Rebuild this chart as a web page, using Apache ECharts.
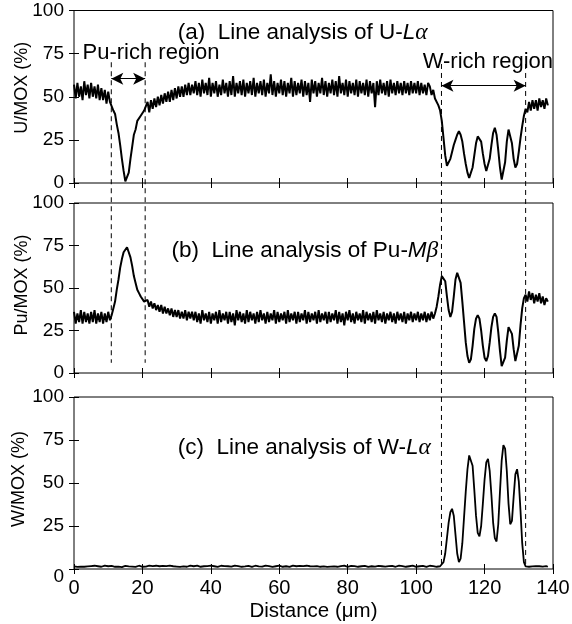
<!DOCTYPE html>
<html><head><meta charset="utf-8">
<script src="https://cdn.jsdelivr.net/npm/echarts@6/dist/echarts.min.js"></script>
<style>html,body{margin:0;padding:0;background:#fff}#c{width:572px;height:624px}</style>
</head><body><div id="c"></div>
<script>
// Sampling step along the line scan (µm)
const distStep = 0.5;
// U/MOX (%) sampled every 0.5 µm from 0 to 138.5 µm
const uValues = [
57,49,58,50,56,48,59,51,57,49,58,50,56,49,57,48,55,48,54,46,53,47,
46,42,40,34,29,22,14,7,1,1,6,14,21,28,31,36,37,39,39,42,43,
47,41,48,43,49,44,50,45,51,46,52,47,53,47,54,48,55,49,56,50,56,50,57,51,58,51,57,52,
59,51,58,50,60,52,58,51,61,50,
58,52,59,50,57,51,60,52,58,50,
59,51,62,50,58,52,59,51,60,50,
58,52,59,51,61,50,58,52,59,51,
60,50,58,52,63,51,59,50,58,52,
60,51,59,50,58,52,61,50,59,51,
58,52,60,50,59,51,58,47,60,52,
59,50,58,52,61,51,59,50,58,52,
60,51,59,50,62,52,58,51,60,50,
59,52,58,51,60,50,59,52,58,51,
60,50,59,52,58,44,59,51,60,52,
58,51,59,50,60,52,58,51,59,52,
58,51,59,52,58,51,59,52,58,52,
59,51,58,52,57,51,58,
56,51,54,49,49,45,42,36,26,16,10,10,14,18,22,25,28,30,28,24,17,11,6,3,4,9,16,23,27,28,
24,17,11,7,8,14,22,29,32,28,19,9,2,3,12,24,31,30,23,14,9,11,18,26,33,39,43,
41,47,42,48,43,48,42,49,44,48,43,49,45
];
// Pu/MOX (%)
const puValues = [
36,29,35,30,37,29,36,30,35,29,36,30,37,29,35,30,36,29,35,30,36,31,
34,38,42,49,55,62,67,71,72,74,71,68,63,57,53,49,47,45,44,42,41,
43,39,42,38,41,37,40,36,40,35,39,35,38,34,38,33,37,33,37,32,36,32,37,31,36,32,36,31,
36,30,35,29,37,31,35,30,36,29,
35,31,36,29,37,30,35,31,36,29,
36,30,35,28,37,31,36,30,35,29,
37,30,36,31,35,29,36,30,37,31,
35,29,36,30,35,31,37,29,36,30,
35,31,36,29,37,30,35,31,36,29,
36,30,35,31,37,29,36,30,35,31,
36,29,37,30,35,31,36,29,36,30,
35,31,37,29,36,30,35,28,36,31,
37,30,35,29,36,31,35,30,37,29,
36,31,35,30,36,29,37,31,35,30,
36,29,35,31,36,30,35,29,36,31,
35,30,36,29,35,31,36,30,35,31,
36,30,35,31,36,30,35,
31,36,32,35,39,45,52,57,58,54,45,37,33,36,45,55,59,59,53,42,30,18,10,6,8,16,26,32,34,32,
25,16,9,7,10,18,27,33,35,33,24,13,4,3,9,19,27,28,23,14,7,8,16,28,38,44,46,
42,48,43,47,41,46,42,47,41,45,40,44,42
];
// W/MOX (%)
const wValues = [
1.5,1.9,1.2,1.7,1.4,2.0,1.3,1.8,1.5,1.1,
1.7,1.4,1.9,1.2,1.6,1.8,1.3,1.5,2.0,1.4,
1.6,1.2,1.8,1.5,1.3,1.9,1.4,1.7,1.1,1.6,
1.8,1.3,1.5,2.0,1.4,1.7,1.2,1.6,1.9,1.5,
1.3,1.8,1.4,1.6,2.0,1.2,1.7,1.5,1.9,1.3,
1.6,1.4,1.8,1.2,1.7,1.5,2.0,1.3,1.6,1.8,
1.4,1.9,1.2,1.6,1.5,1.8,1.3,1.7,2.0,1.4,
1.6,1.2,1.9,1.5,1.3,1.8,1.6,1.4,1.7,1.5,
2.0,1.3,1.6,1.8,1.2,1.5,1.9,1.4,1.7,1.3,
1.6,1.8,1.4,1.5,2.0,1.2,1.7,1.6,1.3,1.9,
1.5,1.4,1.8,1.6,1.2,1.7,1.9,1.3,1.5,1.8,
1.4,1.6,2.0,1.3,1.7,1.5,1.2,1.8,1.6,1.4,
1.9,1.5,1.3,1.7,1.6,1.8,1.2,1.5,2.0,1.4,
1.6,1.3,1.8,1.5,1.7,1.4,1.9,1.2,1.6,1.8,
1.5,1.4,1.7,2.0,1.3,1.6,1.5,1.8,1.2,1.7,
1.4,1.9,1.5,1.6,1.3,1.8,1.7,1.4,2.0,1.5,
1.2,1.6,1.8,1.4,1.7,1.5,1.3,1.9,1.6,1.4,
1.8,1.5,1.2,1.7,1.6,2.0,1.4,1.5,1.8,1.3,
1.6,1.9,1.4,1.5,1.7,1.2,1.8,1.6,1.3,1.5,
2.0,1.4,1.7,1.5,1.3,1.8,1.6,1.4,1.9,1.5,
1.3,1.7,1.6,1.4,1.8,1.5,1.2,1.6,1.9,1.4,
1.7,1.5,1.3,1.8,1.6,
2,4,9,18,27,33,35,31,20,9,4,6,15,30,45,58,66,67,60,46,31,21,19,25,38,52,62,64,57,43,
27,18,16,26,45,63,72,70,57,38,26,28,42,55,58,51,34,15,4,1.5,
1.6,1.3,1.8,1.5,1.4,1.7,1.2,1.6,1.9,1.4,1.5,1.7,1.3
];
// Region boundaries (µm) shown as dashed lines
const puRichBounds = [10.9, 20.8];
const wRichBounds = [107.4, 132.0];
const yAxisNames = ['U/MOX (%)', 'Pu/MOX (%)', 'W/MOX (%)'];
const xAxisName = 'Distance (\u03bcm)';

const FONT = "'Liberation Sans', Arial, Helvetica, sans-serif";
const toPairs = arr => arr.map((v, i) => [i * distStep, v]);

const grids = [
  {left: 74, width: 479, top: 10.5, height: 172.5},
  {left: 74, width: 479, top: 203, height: 170},
  {left: 74, width: 479, top: 397, height: 172}
];
const nameGaps = [43, 43, 46];
const namePads = [[0, 0, 0, 18], [0, 0, 0, 6], [0, 0, 0, 8]];

const xAxes = [], yAxes = [];
grids.forEach((g, i) => {
  const base = {type: 'value', gridIndex: i, min: 0, max: 140, interval: 20,
    axisLine: {show: false}, splitLine: {show: false},
    axisTick: {inside: true, length: 5, lineStyle: {color: '#000', width: 1}}};
  xAxes.push(Object.assign({}, base, {position: 'bottom',
    axisLabel: {show: i === 2, color: '#000', fontFamily: FONT, fontSize: 20, margin: 9},
    name: i === 2 ? xAxisName : '', nameLocation: 'middle', nameGap: 32, nameMoveOverlap: false,
    nameTextStyle: {color: '#000', fontFamily: FONT, fontSize: 20.5}}));
  xAxes.push(Object.assign({}, base, {position: 'top', axisLabel: {show: false}}));
  const ybase = {type: 'value', gridIndex: i, min: 0, max: 100, interval: 25,
    axisLine: {show: false}, splitLine: {show: false},
    axisTick: {inside: true, length: 5, lineStyle: {color: '#000', width: 1}}};
  yAxes.push(Object.assign({}, ybase, {position: 'left',
    axisLabel: {color: '#000', fontFamily: FONT, fontSize: 19, margin: 10,
      formatter: v => (i === 2 && v === 0) ? '{z|0}' : String(v),
      rich: {z: {fontFamily: FONT, fontSize: 19, color: '#000', padding: [16, 0, 0, 0]}}},
    name: yAxisNames[i], nameLocation: 'middle', nameGap: nameGaps[i], nameRotate: 90,
    nameMoveOverlap: false,
    nameTextStyle: {color: '#000', fontFamily: FONT, fontSize: 18, padding: namePads[i]}}));
  yAxes.push(Object.assign({}, ybase, {position: 'right', axisLabel: {show: false}}));
});

const lineStyle = {color: '#000', width: 2};
const chart = echarts.init(document.getElementById('c'), null, {renderer: 'canvas'});
chart.setOption({
  animation: false,
  backgroundColor: '#fff',
  grid: grids.map(g => Object.assign({show: true, borderColor: '#000', borderWidth: 1,
    backgroundColor: 'transparent', containLabel: false, outerBoundsMode: 'none'}, g)),
  xAxis: xAxes,
  yAxis: yAxes,
  series: [
    {type: 'line', xAxisIndex: 0, yAxisIndex: 0, data: toPairs(uValues), showSymbol: false, lineStyle,
      markLine: {silent: true, symbol: ['arrow', 'arrow'], symbolSize: [9, 12], label: {show: false},
        lineStyle: {color: '#000', width: 1.2, type: 'solid'},
        data: [
          [{coord: [puRichBounds[0], 60.5]}, {coord: [puRichBounds[1], 60.5]}],
          [{coord: [wRichBounds[0], 56.4]}, {coord: [wRichBounds[1], 56.4]}]
        ]}},
    {type: 'line', xAxisIndex: 2, yAxisIndex: 2, data: toPairs(puValues), showSymbol: false, lineStyle},
    {type: 'line', xAxisIndex: 4, yAxisIndex: 4, data: toPairs(wValues), showSymbol: false, lineStyle: {color: '#000', width: 1.8}}
  ]
});

const px = (gi, pt) => chart.convertToPixel({gridIndex: gi}, pt);
const graphics = [];
const dashed = (x, g0, v0, g1, v1) => {
  const a = px(g0, [x, v0]), b = px(g1, [x, v1]);
  graphics.push({type: 'line', silent: true, shape: {x1: a[0], y1: a[1], x2: b[0], y2: b[1]},
    style: {stroke: '#000', lineWidth: 1, lineDash: [5, 4]}});
};
puRichBounds.forEach(x => dashed(x, 0, 70, 1, 6));
wRichBounds.forEach(x => dashed(x, 0, 69, 2, 2));

const SERIF = "'Liberation Serif', 'DejaVu Serif', serif";
const mkRich = fs => ({
  n: {fontFamily: FONT, fontSize: fs, fill: '#000', color: '#000'},
  i: {fontFamily: FONT, fontSize: fs, fontStyle: 'italic', fill: '#000', color: '#000'},
  g: {fontFamily: SERIF, fontSize: fs + 1, fontStyle: 'italic', fill: '#000', color: '#000'}
});
const addText = (gi, pt, text, fs) => {
  const p = px(gi, pt);
  graphics.push({type: 'text', x: p[0], y: p[1], silent: true,
    style: {text, rich: mkRich(fs), fontFamily: FONT, fontSize: fs, fill: '#000', align: 'left', verticalAlign: 'middle'}});
};
addText(0, [30.3, 87.2], '{n|(a)  Line analysis of U-}{i|L}{g|\u03b1}', 22.5);
addText(1, [28.5, 72.0], '{n|(b)  Line analysis of Pu-}{i|M}{g|\u03b2}', 22.5);
addText(2, [30.3, 70.5], '{n|(c)  Line analysis of W-}{i|L}{g|\u03b1}', 22.5);
addText(0, [2.5, 75.6], '{n|Pu-rich region}', 22);
addText(0, [101.9, 70.3], '{n|W-rich region}', 22);
chart.setOption({graphic: graphics});
</script></body></html>
